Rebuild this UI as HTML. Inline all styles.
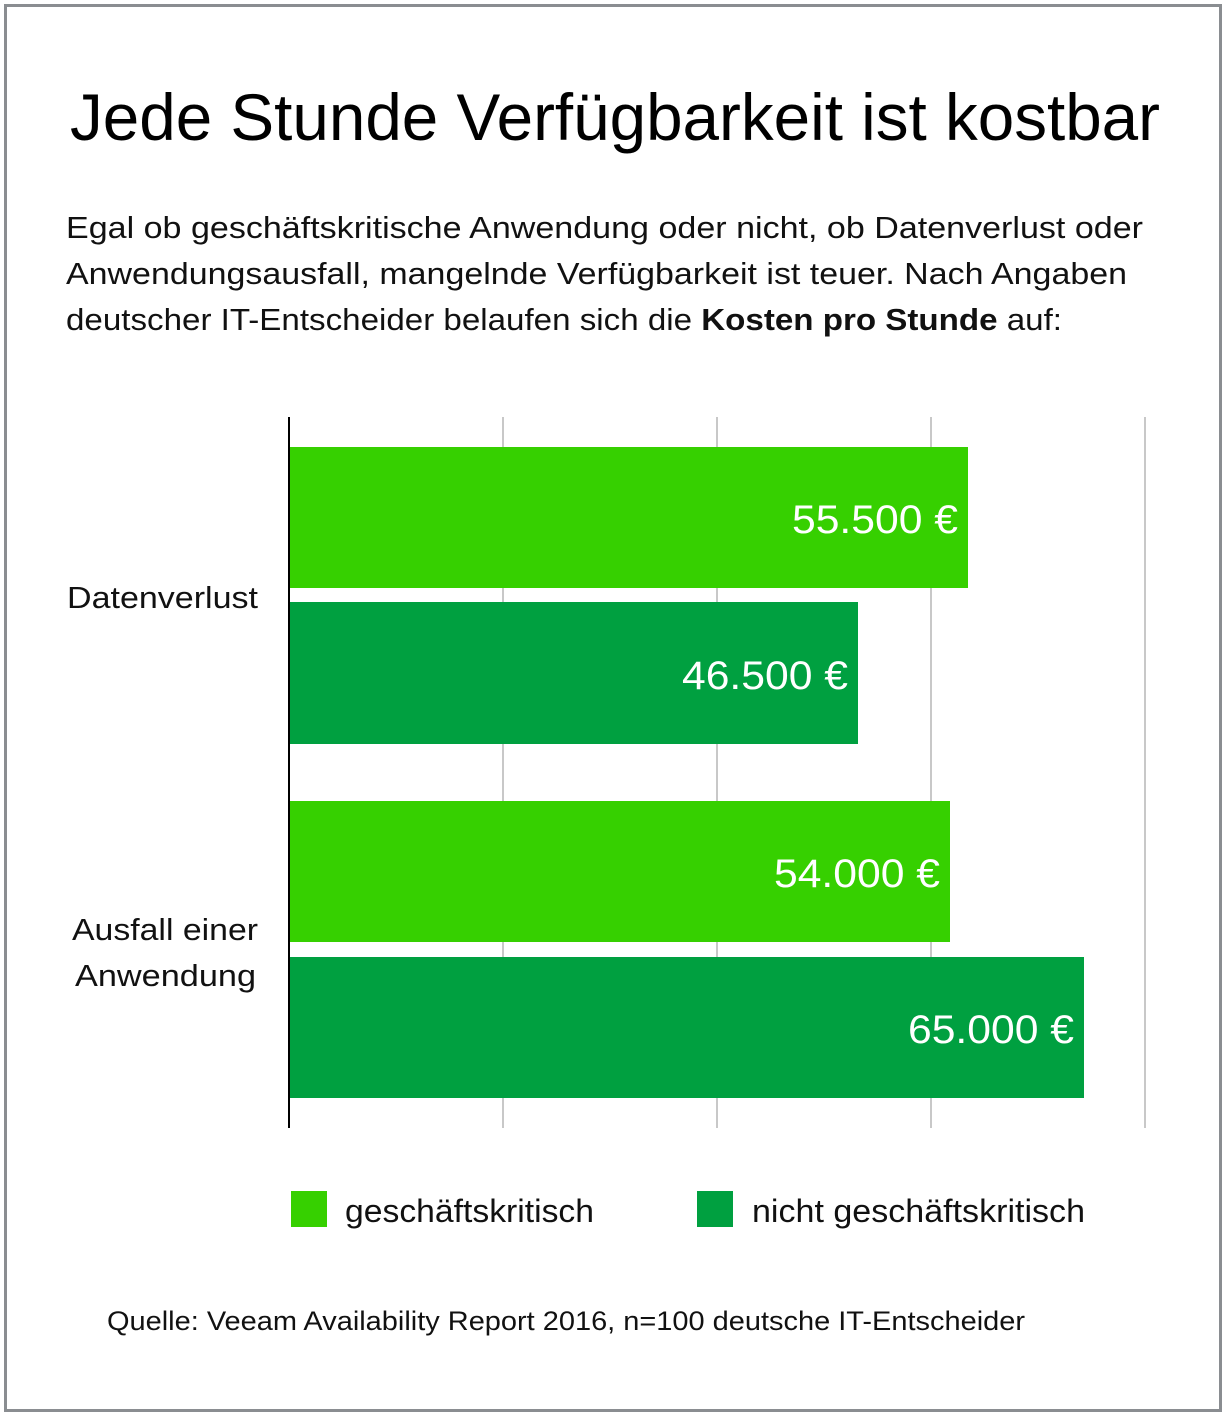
<!DOCTYPE html><html><head><meta charset="utf-8"><style>body{margin:0}svg{display:block}text{font-family:"Liberation Sans",sans-serif}</style></head><body>
<svg width="1227" height="1416" xmlns="http://www.w3.org/2000/svg">
<rect width="1227" height="1416" fill="#fff"/>
<rect x="5.5" y="5.5" width="1215" height="1405" fill="none" stroke="#8a8d91" stroke-width="3"/>
<text x="70" y="140" font-size="66" textLength="1090" lengthAdjust="spacingAndGlyphs" fill="#000">Jede Stunde Verfügbarkeit ist kostbar</text>
<g font-size="31" fill="#111">
<text x="66" y="238" textLength="1077" lengthAdjust="spacingAndGlyphs">Egal ob geschäftskritische Anwendung oder nicht, ob Datenverlust oder</text>
<text x="66" y="284" textLength="1061" lengthAdjust="spacingAndGlyphs">Anwendungsausfall, mangelnde Verfügbarkeit ist teuer. Nach Angaben</text>
<text x="66" y="330" textLength="996" lengthAdjust="spacingAndGlyphs">deutscher IT-Entscheider belaufen sich die <tspan font-weight="bold">Kosten pro Stunde</tspan> auf:</text>
</g>
<g stroke="#c8c8c8" stroke-width="2">
<line x1="503" y1="417" x2="503" y2="1128"/><line x1="717" y1="417" x2="717" y2="1128"/><line x1="931" y1="417" x2="931" y2="1128"/><line x1="1145" y1="417" x2="1145" y2="1128"/>
</g>
<rect x="290" y="447" width="678" height="141" fill="#36d000"/>
<rect x="290" y="602" width="568" height="142" fill="#00a040"/>
<rect x="290" y="801" width="660" height="141" fill="#36d000"/>
<rect x="290" y="957" width="794" height="141" fill="#00a040"/>
<line x1="289" y1="417" x2="289" y2="1128" stroke="#000" stroke-width="2"/>
<g font-size="40" fill="#fff">
<text x="792" y="533" textLength="166" lengthAdjust="spacingAndGlyphs">55.500 €</text>
<text x="682" y="689" textLength="166" lengthAdjust="spacingAndGlyphs">46.500 €</text>
<text x="774" y="887" textLength="166" lengthAdjust="spacingAndGlyphs">54.000 €</text>
<text x="908" y="1043" textLength="166" lengthAdjust="spacingAndGlyphs">65.000 €</text>
</g>
<g font-size="31" fill="#111">
<text x="67" y="608" textLength="191" lengthAdjust="spacingAndGlyphs">Datenverlust</text>
<text x="72" y="940" textLength="186" lengthAdjust="spacingAndGlyphs">Ausfall einer</text>
<text x="75" y="986" textLength="181" lengthAdjust="spacingAndGlyphs">Anwendung</text>
</g>
<rect x="291" y="1191" width="36" height="36" fill="#36d000"/>
<rect x="697" y="1191" width="36" height="36" fill="#00a040"/>
<g font-size="32" fill="#111">
<text x="345" y="1222" textLength="249" lengthAdjust="spacingAndGlyphs">geschäftskritisch</text>
<text x="752" y="1222" textLength="333" lengthAdjust="spacingAndGlyphs">nicht geschäftskritisch</text>
</g>
<text x="107" y="1330" font-size="27" fill="#111" textLength="918" lengthAdjust="spacingAndGlyphs">Quelle: Veeam Availability Report 2016, n=100 deutsche IT-Entscheider</text>
</svg></body></html>
